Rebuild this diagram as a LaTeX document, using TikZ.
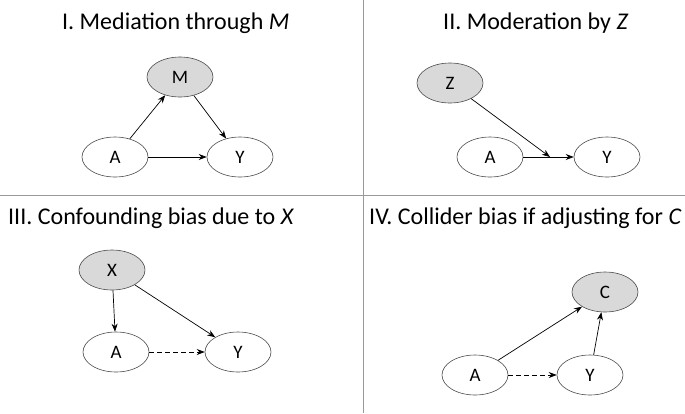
\documentclass[tikz,border=0pt]{standalone}
\usepackage{fontspec}
\setmainfont{Carlito}
\usetikzlibrary{shapes.geometric,arrows.meta}
\begin{document}
\begin{tikzpicture}[x=1pt,y=-1pt,
  v/.style={ellipse,draw=black!70,line width=0.6pt,minimum width=66pt,minimum height=40pt,font=\fontsize{19}{19}\selectfont,inner sep=0pt},
  g/.style={v,fill=black!15},
  t/.style={font=\fontsize{24}{24}\selectfont,anchor=west,inner sep=0pt},
  a/.style={-{Stealth[length=8pt,width=6pt]},line width=0.7pt},
  d/.style={a,dash pattern=on 5pt off 3pt}]
\useasboundingbox (0,0) rectangle (685,413);
\coordinate (t1) at (363,0); \coordinate (b1) at (363,413);
\coordinate (l1) at (0,195); \coordinate (r1) at (685,195);
\draw[black!40,line width=0.6pt] (t1) -- (b1) (l1) -- (r1);
\node[t] (T1) at (62,23) {I. Mediation through \textit{M}};
\node[t] (T2) at (443,23) {II. Moderation by \textit{Z}};
\node[t] (T3) at (8,218) {III. Confounding bias due to \textit{X}};
\node[t] (T4) at (369,218) {IV. Collider bias if adjusting for \textit{C}};
% I
\node[g] (M) at (180,77) {M};
\node[v] (A1) at (115,157) {A};
\node[v] (Y1) at (240,157) {Y};
\draw[a] (A1) -- (M); \draw[a] (M) -- (Y1); \draw[a] (A1) -- (Y1);
% II
\node[g] (Z) at (450,83) {Z};
\node[v] (A2) at (490,157) {A};
\node[v] (Y2) at (607,157) {Y};
\draw[a] (A2) -- (Y2);
\coordinate (m2) at (550,157);
\draw[a] (Z) -- (m2);
% III
\node[g] (X) at (112,270) {X};
\node[v] (A3) at (116,352) {A};
\node[v] (Y3) at (238,352) {Y};
\draw[a] (X) -- (A3); \draw[a] (X) -- (Y3); \draw[d] (A3) -- (Y3);
% IV
\node[g] (C) at (605,292) {C};
\node[v] (A4) at (475,375) {A};
\node[v] (Y4) at (590,375) {Y};
\draw[a] (A4) -- (C); \draw[a] (Y4) -- (C); \draw[d] (A4) -- (Y4);
\end{tikzpicture}
\end{document}
